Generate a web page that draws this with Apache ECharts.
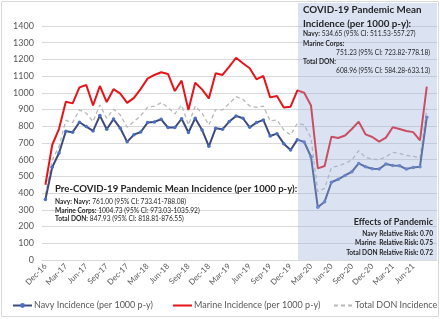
<!DOCTYPE html>
<html><head><meta charset="utf-8">
<script src="https://cdn.jsdelivr.net/npm/echarts@6/dist/echarts.min.js"></script>
<style>html,body{margin:0;padding:0;background:#fff}#c{width:440px;height:319px}</style>
</head><body><div id="c"></div>
<script>
const categories = ['Dec-16','Jan-17','Feb-17','Mar-17','Apr-17','May-17','Jun-17','Jul-17','Aug-17','Sep-17','Oct-17','Nov-17',
'Dec-17','Jan-18','Feb-18','Mar-18','Apr-18','May-18','Jun-18','Jul-18','Aug-18','Sep-18','Oct-18','Nov-18',
'Dec-18','Jan-19','Feb-19','Mar-19','Apr-19','May-19','Jun-19','Jul-19','Aug-19','Sep-19','Oct-19','Nov-19',
'Dec-19','Jan-20','Feb-20','Mar-20','Apr-20','May-20','Jun-20','Jul-20','Aug-20','Sep-20','Oct-20','Nov-20',
'Dec-20','Jan-21','Feb-21','Mar-21','Apr-21','May-21','Jun-21','Jul-21','Aug-21','Sep-21'];
const navy = [362,555,640,770,765,824,798,772,864,782,843,788,
707,750,766,822,826,842,792,792,845,763,848,778,
680,788,782,828,862,848,794,822,838,742,756,696,
658,720,706,618,315,349,465,483,506,528,578,558,
546,544,574,566,564,544,554,558,854,null];
const marine = [450,688,785,947,937,1033,1047,925,1041,945,1022,995,
940,970,1024,1085,1107,1123,1113,1011,1073,897,1061,1021,
967,1117,1107,1157,1210,1177,1147,1081,1101,973,981,913,
917,1015,1001,924,548,562,738,730,745,784,828,752,
736,708,732,794,784,772,765,716,1037,null];
const totalDON = [390,598,680,836,823,898,878,828,928,848,902,868,
794,828,863,915,921,941,913,874,927,808,921,878,
808,900,898,937,977,961,921,913,921,832,838,778,
748,818,808,730,409,429,554,562,578,598,654,614,
604,600,618,644,638,624,622,608,907,null];
const yTicks = {min:0, max:1400, interval:100};
const seriesNames = ['Navy Incidence (per 1000 p-y)','Marine Incidence (per 1000 p-y)','Total DON Incidence'];

const F = 'Lato, "Open Sans", sans-serif';
const chart = echarts.init(document.getElementById('c'), null, {renderer:'canvas'});
const txt = (x,y,text,opt) => Object.assign({type:'text', z:100, x:x, y:y,
  style:Object.assign({text:text, font:'7px '+F, fill:'#262626', verticalAlign:'middle', align:'left'}, opt||{})});
const rich = {b:{fontFamily:F, fontWeight:'bold', fontSize:6.6, fill:'#262626'}, n:{fontFamily:F, fontSize:6.6, fill:'#262626'}};
const legendBase = {top:301, itemWidth:19, itemHeight:6, padding:0,
  textStyle:{fontSize:9, color:'#595959', padding:[0,0,0,-3]}};
chart.setOption({
  animation:false,
  textStyle:{fontFamily:F},
  grid:{left:42, right:3, top:26, bottom:59},
  xAxis:{type:'category', data:categories, boundaryGap:true,
    axisLine:{lineStyle:{color:'#d9d9d9'}}, axisTick:{show:false},
    axisLabel:{rotate:45, fontSize:8, color:'#595959', margin:5,
      interval:(i)=> i%3===0 && i<=54 }},
  yAxis:{type:'value', min:yTicks.min, max:yTicks.max, interval:yTicks.interval,
    axisLabel:{fontSize:9, color:'#595959', margin:8, formatter:(v)=>String(v)},
    axisLine:{show:false}, axisTick:{show:false},
    splitLine:{lineStyle:{color:'#d9d9d9', width:1}}},
  legend:[
    Object.assign({left:12, data:[{name:seriesNames[0]}]}, legendBase),
    Object.assign({left:172, data:[{name:seriesNames[1], itemStyle:{opacity:0}}]}, legendBase),
    Object.assign({left:333, data:[{name:seriesNames[2], itemStyle:{opacity:0}}]}, legendBase)
  ],
  series:[
    {name:seriesNames[0], type:'line', data:navy, symbol:'circle', symbolSize:3.5,
      lineStyle:{color:'#3c4b7c', width:2}, itemStyle:{color:'#4a6fc0'}, z:3},
    {name:seriesNames[1], type:'line', data:marine, showSymbol:false, symbol:'none',
      lineStyle:{color:'#e5141b', width:2}, itemStyle:{color:'#e5141b'}, z:3},
    {name:seriesNames[2], type:'line', data:totalDON, showSymbol:false, symbol:'none',
      lineStyle:{color:'#b8b8b8', width:1.3, type:[4,3]}, itemStyle:{color:'#b8b8b8'}, z:2}
  ],
  graphic:[
    {type:'rect', z:1, shape:{x:1.5,y:1.5,width:437,height:315}, style:{fill:null, stroke:'#d9d9d9', lineWidth:1}},
    {type:'rect', z:50, shape:{x:298,y:3,width:139,height:257}, style:{fill:'rgba(156,180,223,0.37)', stroke:null}},
    txt(55,188.5,'Pre-COVID-19 Pandemic Mean Incidence (per 1000 p-y):',{font:'bold 9.6px '+F}),
    txt(55,201.5,'{b|Navy: Navy:} {n|761.00 (95% CI: 733.41-788.08)}',{rich:rich}),
    txt(55,210.5,'{b|Marine Corps:} {n|1004.73 (95% CI: 973.03-1035.92)}',{rich:rich}),
    txt(55,218.5,'{b|Total DON:} {n|847.93 (95% CI: 818.81-876.55)}',{rich:rich}),
    txt(303,10,'COVID-19 Pandemic Mean',{font:'bold 9.8px '+F}),
    txt(303,24,'Incidence (per 1000 p-y):',{font:'bold 9.8px '+F}),
    txt(303,34,'{b|Navy:} {n|534.65 (95% CI: 511.53-557.27)}',{rich:rich}),
    txt(303,43.5,'{b|Marine Corps:}',{rich:rich}),
    txt(430,52.5,'751.23 (95% CI: 723.82-778.18)',{font:'6.6px '+F, align:'right'}),
    txt(303,62,'{b|Total DON:}',{rich:rich}),
    txt(430,71,'608.96 (95% CI: 584.28-633.13)',{font:'6.6px '+F, align:'right'}),
    txt(433,222.5,'Effects of Pandemic',{font:'bold 9px '+F, align:'right'}),
    txt(433,234,'Navy Relative Risk: 0.70',{font:'bold 6.6px '+F, align:'right'}),
    txt(433,243,'Marine  Relative Risk: 0.75',{font:'bold 6.6px '+F, align:'right'}),
    txt(433,252.5,'Total DON Relative Risk: 0.72',{font:'bold 6.6px '+F, align:'right'})
  ]
});
</script></body></html>
